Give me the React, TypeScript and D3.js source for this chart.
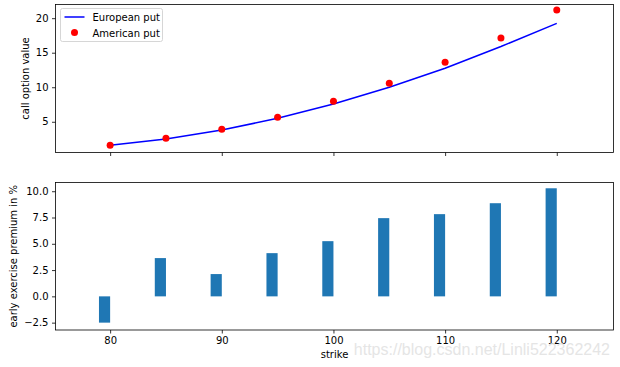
import React, { useEffect, useRef } from 'react';
import * as d3 from 'd3';

const strikes = [80, 85, 90, 95, 100, 105, 110, 115, 120];
const europeanPut = [1.6, 2.52, 3.8, 5.5, 7.57, 10.0, 12.76, 15.9, 19.25];
const americanPut = [1.61, 2.63, 3.9, 5.64, 7.97, 10.58, 13.63, 17.12, 21.19];
const premium = [-2.5, 3.64, 2.12, 4.11, 5.25, 7.44, 7.82, 8.86, 10.28];
const topTicks = [5, 10, 15, 20];
const bottomTicks = [-2.5, 0, 2.5, 5, 7.5, 10];
const xTicks = [80, 90, 100, 110, 120];

const App = () => {
  const ref = useRef<SVGSVGElement>(null);

  useEffect(() => {
    const svg = d3.select(ref.current);
    svg.selectAll('*').remove();

    const font = 'DejaVu Sans, sans-serif';
    const left = 55.5;
    const right = 613.5;
    const top1 = 4.5, bot1 = 152.5;
    const top2 = 182.5, bot2 = 330;

    const x = d3.scaleLinear().domain([75, 125]).range([54.3, 612.6]);
    const y1 = d3.scaleLinear().domain([0.55, 21.98]).range([bot1, top1]);
    const y2 = d3.scaleLinear().domain([-3.2, 10.83]).range([bot2, top2]);

    const styleAxis = (g, showLabels = true) => {
      g.select('.domain').remove();
      g.selectAll('line').attr('stroke', '#000').attr('stroke-width', 0.8);
      g.selectAll('text')
        .attr('font-family', font)
        .attr('font-size', 10)
        .attr('fill', '#000');
      if (!showLabels) g.selectAll('text').remove();
    };

    // ---- top panel ----
    const line = d3
      .line<number>()
      .x((_, i) => x(strikes[i]))
      .y((d) => y1(d));
    svg
      .append('path')
      .datum(europeanPut)
      .attr('d', line)
      .attr('fill', 'none')
      .attr('stroke', '#0000ff')
      .attr('stroke-width', 1.5);

    svg
      .selectAll('circle.am')
      .data(americanPut)
      .enter()
      .append('circle')
      .attr('class', 'am')
      .attr('cx', (_, i) => x(strikes[i]))
      .attr('cy', (d) => y1(d))
      .attr('r', 3.5)
      .attr('fill', '#ff0000');

    svg
      .append('g')
      .attr('transform', `translate(${left},0)`)
      .call(d3.axisLeft(y1).tickValues(topTicks).tickSize(3.5).tickPadding(3.5).tickFormat(d3.format('d')))
      .call((g) => styleAxis(g));
    svg
      .append('g')
      .attr('transform', `translate(0,${bot1})`)
      .call(d3.axisBottom(x).tickValues(xTicks).tickSize(3.5))
      .call((g) => styleAxis(g, false));

    svg
      .append('rect')
      .attr('x', left)
      .attr('y', top1)
      .attr('width', right - left)
      .attr('height', bot1 - top1)
      .attr('fill', 'none')
      .attr('stroke', '#000')
      .attr('stroke-width', 0.8);

    svg
      .append('text')
      .attr('transform', `translate(29,${(top1 + bot1) / 2}) rotate(-90)`)
      .attr('text-anchor', 'middle')
      .attr('font-family', font)
      .attr('font-size', 10)
      .text('call option value');

    // legend
    const lg = svg.append('g').attr('transform', 'translate(60.5,8.5)');
    lg.append('rect')
      .attr('width', 102)
      .attr('height', 33)
      .attr('rx', 2)
      .attr('fill', '#fff')
      .attr('stroke', '#ccc')
      .attr('stroke-width', 0.8);
    lg.append('line')
      .attr('x1', 4).attr('x2', 24).attr('y1', 8.5).attr('y2', 8.5)
      .attr('stroke', '#0000ff').attr('stroke-width', 1.5);
    lg.append('circle').attr('cx', 14).attr('cy', 24).attr('r', 3.5).attr('fill', '#ff0000');
    lg.append('text').attr('x', 32).attr('y', 12).attr('font-family', font).attr('font-size', 10).text('European put');
    lg.append('text').attr('x', 32).attr('y', 28).attr('font-family', font).attr('font-size', 10).text('American put');

    // ---- bottom panel ----
    svg
      .selectAll('rect.bar')
      .data(premium)
      .enter()
      .append('rect')
      .attr('class', 'bar')
      .attr('x', (_, i) => x(strikes[i] - 1))
      .attr('width', (_, i) => x(strikes[i]) - x(strikes[i] - 1))
      .attr('y', (d) => y2(Math.max(0, d)))
      .attr('height', (d) => Math.abs(y2(d) - y2(0)))
      .attr('fill', '#1f77b4');

    svg
      .append('g')
      .attr('transform', `translate(${left},0)`)
      .call(d3.axisLeft(y2).tickValues(bottomTicks).tickSize(3.5).tickPadding(3.5).tickFormat((d) => d3.format('.1f')(d).replace('-', '\u2212')))
      .call((g) => styleAxis(g));
    svg
      .append('g')
      .attr('transform', `translate(0,${bot2})`)
      .call(d3.axisBottom(x).tickValues(xTicks).tickSize(3.5).tickPadding(3.5).tickFormat(d3.format('d')))
      .call((g) => styleAxis(g));

    svg
      .append('rect')
      .attr('x', left)
      .attr('y', top2)
      .attr('width', right - left)
      .attr('height', bot2 - top2)
      .attr('fill', 'none')
      .attr('stroke', '#000')
      .attr('stroke-width', 0.8);

    svg
      .append('text')
      .attr('transform', `translate(16.5,${(top2 + bot2) / 2}) rotate(-90)`)
      .attr('text-anchor', 'middle')
      .attr('font-family', font)
      .attr('font-size', 10)
      .text('early exercise premium in %');

    svg
      .append('text')
      .attr('x', (left + right) / 2)
      .attr('y', 358)
      .attr('text-anchor', 'middle')
      .attr('font-family', font)
      .attr('font-size', 10)
      .text('strike');

    // watermark
    svg
      .append('text')
      .attr('x', 610)
      .attr('y', 355)
      .attr('text-anchor', 'end')
      .attr('font-family', 'Arial, Liberation Sans, sans-serif')
      .attr('font-size', 16)
      .attr('fill', '#e2e2e2')
      .attr('fill-opacity', 0.9)
      .text('https://blog.csdn.net/Linli522362242');
  }, []);

  return (
    <svg
      ref={ref}
      width={620}
      height={367}
      style={{ position: 'absolute', left: 0, top: 0, background: '#fff' }}
    />
  );
};

export default App;
